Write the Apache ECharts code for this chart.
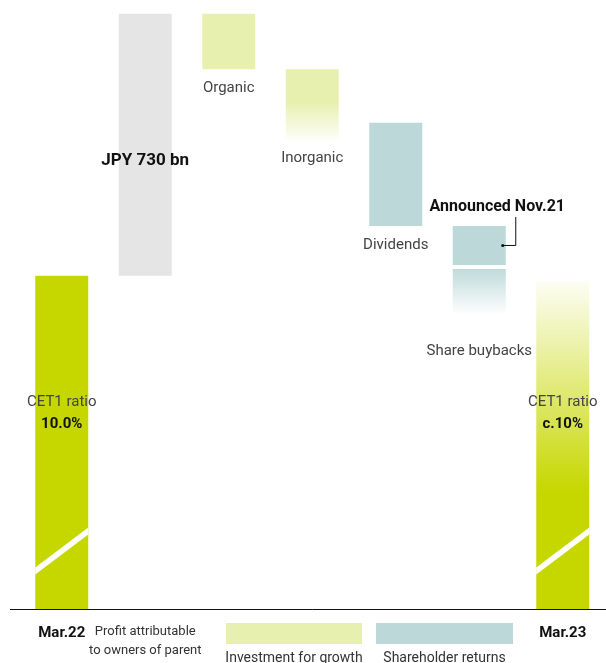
<!DOCTYPE html>
<html><head><meta charset="utf-8">
<script src="https://cdn.jsdelivr.net/npm/echarts@6/dist/echarts.min.js"></script>
<style>html,body{margin:0;padding:0;background:#fff}#c{width:606px;height:663px}</style>
</head><body><div id="c"></div>
<script>
// ---- data ----
const categories = ['Mar.22', 'Profit attributable\nto owners of parent', 'Organic', 'Inorganic', 'Dividends', 'Shareholder returns', 'Mar.23'];
const barNames = ['Mar.22', 'Profit', 'Organic', 'Inorganic', 'Dividends', 'Announced Nov.21', 'Share buybacks', 'Mar.23'];
const barSlot = [0, 1, 2, 3, 4, 5, 5, 6];
const barLow  = [0, 928, 1503, 1298, 1067, 958, 819, 0];
const barHigh = [928, 1658, 1658, 1503, 1354, 1067, 947, 914];
const barLabels = [['CET1 ratio', '10.0%'], ['JPY 730 bn'], ['Organic'], ['Inorganic'], ['Dividends'], ['Announced Nov.21'], ['Share buybacks'], ['CET1 ratio', 'c.10%']];
const legendNames = ['Investment for growth', 'Shareholder returns'];
const axisLabelShown = [true, true, false, false, false, false, true];

// ---- style ----
const FONT = 'Roboto';
const GREEN = '#c6d700', GRAY = '#e5e5e5', LIME = '#e8f0b0', TEAL = '#bcd8d8';
function grad(stops) {
  return new echarts.graphic.LinearGradient(0, 0, 0, 1, stops.map(([o, c]) => ({ offset: o, color: c })));
}
const fills = [
  GREEN, GRAY, LIME,
  grad([[0, LIME], [0.45, LIME], [1, 'rgba(232,240,176,0)']]),
  TEAL, TEAL,
  grad([[0, 'rgba(188,216,216,0.95)'], [1, 'rgba(188,216,216,0)']]),
  grad([[0, 'rgba(198,215,0,0.04)'], [0.64, GREEN], [1, GREEN]])
];
const labelSpec = [
  { anchor: 'base', dy: [-207, -185], bold: [false, true], size: [15, 15] },
  { anchor: 'mid', dy: [16], bold: [true], size: [17] },
  { anchor: 'bottom', dy: [19], bold: [false], size: [15] },
  { anchor: 'bottom', dy: [15], bold: [false], size: [15] },
  { anchor: 'bottom', dy: [19], bold: [false], size: [15] },
  { anchor: 'callout', dy: [-19], bold: [true], size: [16] },
  { anchor: 'bottom', dy: [36], bold: [false], size: [15] },
  { anchor: 'base', dy: [-207, -185], bold: [false, true], size: [15, 15] }
];
const BAR_W = 53;

function renderItem(params, api) {
  const i = params.dataIndex;
  const slot = api.value(0), lo = api.value(1), hi = api.value(2);
  const pTop = api.coord([slot, hi]);
  const pBot = api.coord([slot, lo]);
  const base = api.coord([slot, 0])[1];
  const cx = pTop[0];
  const x0 = cx - BAR_W / 2, x1 = cx + BAR_W / 2;
  const yT = pTop[1], yB = pBot[1];
  const children = [{
    type: 'rect', shape: { x: x0, y: yT, width: BAR_W, height: yB - yT },
    style: { fill: fills[i] }
  }];
  if (i === 0 || i === 7) {
    const yl = base - 38, yr = base - 78, h = 3.5;
    children.push({
      type: 'polygon',
      shape: { points: [[x0, yl - h], [x1, yr - h], [x1, yr + h], [x0, yl + h]] },
      style: { fill: '#fff' }
    });
  }
  const spec = labelSpec[i];
  const lines = barLabels[i];
  let tx = cx;
  lines.forEach((t, k) => {
    let ty;
    if (spec.anchor === 'base') ty = base + spec.dy[k];
    else if (spec.anchor === 'mid') ty = (yT + yB) / 2 + spec.dy[k];
    else if (spec.anchor === 'bottom') ty = yB + spec.dy[k];
    else { ty = yT + spec.dy[k]; tx = cx + 18; }
    children.push({
      type: 'text', z2: 10,
      style: {
        text: t, x: tx, y: ty, align: 'center', verticalAlign: 'middle',
        fontFamily: FONT, fontSize: spec.size[k],
        fontWeight: spec.bold[k] ? 'bold' : 'normal',
        fill: spec.bold[k] ? '#111' : '#444'
      }
    });
  });
  if (spec.anchor === 'callout') {
    const ym = (yT + yB) / 2;
    children.push({
      type: 'polyline',
      shape: { points: [[x1 - 3, ym], [x1 + 10, ym], [x1 + 10, yT - 9]] },
      style: { stroke: '#111', lineWidth: 1, fill: null }
    });
    children.push({ type: 'circle', shape: { cx: x1 - 3, cy: ym, r: 1.6 }, style: { fill: '#111' } });
  }
  return { type: 'group', children };
}

const chart = echarts.init(document.getElementById('c'), null, { renderer: 'canvas' });
chart.setOption({
  animation: false,
  backgroundColor: '#fff',
  grid: { left: 20, right: 1.5, top: 13, bottom: 54 },
  xAxis: {
    type: 'category', data: categories, boundaryGap: true,
    axisLine: { lineStyle: { color: '#111', width: 1 } },
    axisTick: { show: false },
    axisLabel: {
      interval: 0, margin: 13,
      formatter: (v, idx) => {
        if (!axisLabelShown[idx]) return '';
        if (idx === 1) return v.split('\n').map(s => '{p|' + s + '}').join('\n');
        return '{b|' + v + '}';
      },
      rich: {
        b: { fontFamily: FONT, fontSize: 15, fontWeight: 'bold', color: '#111', lineHeight: 22 },
        p: { fontFamily: FONT, fontSize: 13, color: '#333', lineHeight: 19 }
      }
    }
  },
  yAxis: { type: 'value', min: 0, max: 1660, show: false, splitLine: { show: false } },
  series: [{
    type: 'custom', name: 'bars', clip: false,
    renderItem,
    encode: { x: 0, y: [1, 2] },
    data: barSlot.map((s, i) => ({ name: barNames[i], value: [s, barLow[i], barHigh[i]] }))
  }],
  graphic: [
    { type: 'line', shape: { x1: 10, y1: 609.5, x2: 21, y2: 609.5 }, style: { stroke: '#111', lineWidth: 1 } },
    { type: 'line', shape: { x1: 603, y1: 609.5, x2: 606, y2: 609.5 }, style: { stroke: '#111', lineWidth: 1 } },
    { type: 'rect', shape: { x: 226, y: 623, width: 136, height: 21 }, style: { fill: LIME } },
    { type: 'rect', shape: { x: 376, y: 623, width: 137, height: 21 }, style: { fill: TEAL } },
    { type: 'text', style: { text: legendNames[0], x: 294, y: 658, align: 'center', verticalAlign: 'middle', fontFamily: FONT, fontSize: 14, fill: '#333' } },
    { type: 'text', style: { text: legendNames[1], x: 444.5, y: 658, align: 'center', verticalAlign: 'middle', fontFamily: FONT, fontSize: 14, fill: '#333' } }
  ]
});
</script></body></html>
